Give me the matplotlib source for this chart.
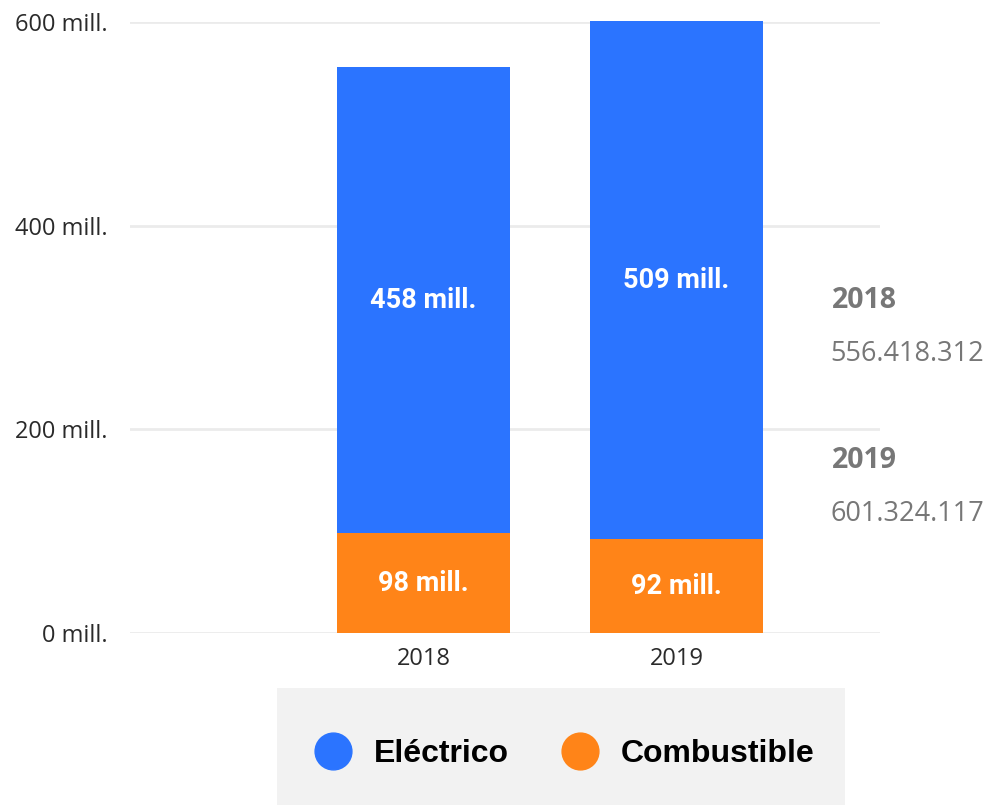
import matplotlib
matplotlib.use("Agg")
import matplotlib.pyplot as plt
from matplotlib.lines import Line2D
from matplotlib.patches import Rectangle

years = ["2018", "2019"]
electrico = [458, 509]          # millions
combustible = [98, 92]          # millions
totals = [556418312, 601324117]
series_names = ["Eléctrico", "Combustible"]
yticks = [0, 200, 400, 600]

c_blue = "#2B74FF"
c_orange = "#FF8418"

fig = plt.figure(figsize=(9.9, 8.05), dpi=100)
ax = fig.add_axes([130/990, 172/805, 750/990, 611/805])

x = list(range(len(years)))
w = 0.684
ax.bar(x, combustible, width=w, color=c_orange, zorder=3)
ax.bar(x, electrico, width=w, bottom=combustible, color=c_blue, zorder=3, clip_on=False)

lab_font = dict(family=["Roboto", "DejaVu Sans"], fontweight="bold", fontsize=19.5, color="white")
for i in x:
    ax.text(i, combustible[i] / 2, f"{combustible[i]} mill.", ha="center", va="center", zorder=4, **lab_font)
    ax.text(i, combustible[i] + electrico[i] / 2, f"{electrico[i]} mill.", ha="center", va="center", zorder=4, **lab_font)

ax.set_xlim(-1.16, 1.804)
ax.set_ylim(0, 600)
ax.set_yticks(yticks)
ax.set_yticklabels([f"{v} mill." for v in yticks])
ax.set_xticks(x)
ax.set_xticklabels(years)
for lbl in ax.get_yticklabels() + ax.get_xticklabels():
    lbl.set_family(["Open Sans", "DejaVu Sans"])
    lbl.set_fontsize(17)
    lbl.set_color("#2a2a2a")
ax.tick_params(axis="y", length=0, pad=16)
ax.tick_params(axis="x", length=0, pad=10)
for s in ax.spines.values():
    s.set_visible(False)
ax.grid(axis="y", color="#EBEBEB", linewidth=2, zorder=0)
ax.set_axisbelow(True)

# right-hand totals
def fmt(n):
    return f"{n:,}".replace(",", ".")

tx = (830 - 130) / 750
ypos = [(805 - 301 - 172) / 611, (805 - 461 - 172) / 611]
for i, yr in enumerate(years):
    ax.text(tx + 0.002, ypos[i], yr, transform=ax.transAxes, ha="left", va="center",
            family=["Open Sans", "DejaVu Sans"], fontweight="bold", fontsize=20.5, color="#777777")
    ax.text(tx, ypos[i] - 53 / 611, fmt(totals[i]), transform=ax.transAxes, ha="left", va="center",
            family=["Open Sans", "DejaVu Sans"], fontsize=19.5, color="#777777")

# legend box
fig.patches.append(Rectangle((277/990, 0), (845-277)/990, (805-688)/805,
                             transform=fig.transFigure, facecolor="#F2F2F2", edgecolor="none", zorder=0))
handles = [Line2D([], [], marker="o", linestyle="none", markersize=26.5, color=c)
           for c in (c_blue, c_orange)]
leg = fig.legend(handles, series_names, loc="center", bbox_to_anchor=(558/990, 51/805),
                 ncol=2, frameon=False, handletextpad=0.27, columnspacing=1.23,
                 prop=dict(family=["Liberation Sans", "DejaVu Sans"], weight="bold", size=23))

fig.savefig("out.png", dpi=100)
